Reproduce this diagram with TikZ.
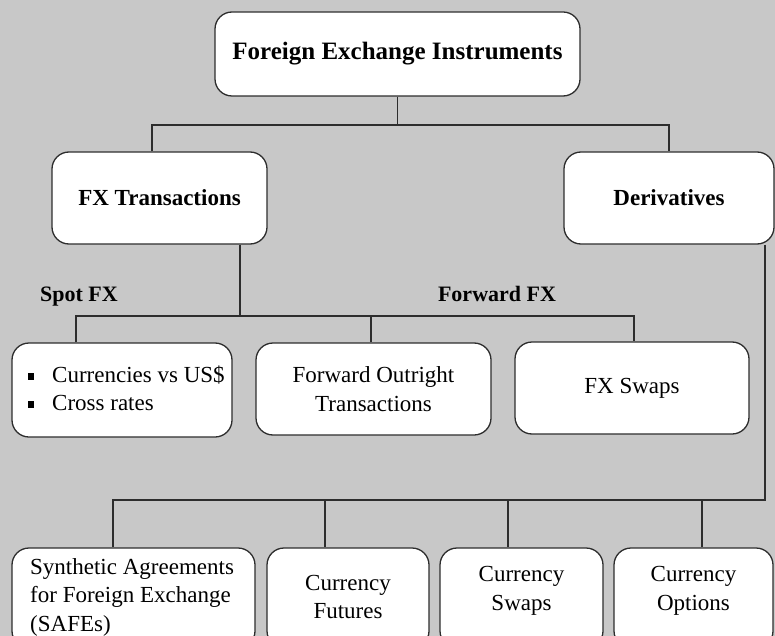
\documentclass[tikz,border=0pt]{standalone}
\usepackage{fontspec}
\setmainfont{Liberation Serif}
\definecolor{bg}{RGB}{200,200,200}
\definecolor{ln}{RGB}{45,45,45}
\begin{document}
\begin{tikzpicture}[x=1pt,y=-1pt,
  box/.style={draw=ln,line width=1.3pt,fill=white,rounded corners=17pt,inner sep=0pt},
  conn/.style={draw=ln,line width=1.3pt},
  txt/.style={font=\fontsize{23}{28.5}\selectfont,inner sep=0pt},
  btxt/.style={font=\fontsize{23}{28.5}\selectfont\bfseries,inner sep=0pt}]
\useasboundingbox (0,0) rectangle (775,636);
\clip (0,0) rectangle (775,636);
\fill[bg] (0,0) rectangle (775,636);

% top levels
\node[box,minimum width=365pt,minimum height=84pt,font=\fontsize{25}{30}\selectfont\bfseries] (top) at (397.5,54) {Foreign Exchange Instruments};
\node[box,minimum width=215pt,minimum height=92pt,btxt] (fxt) at (159.5,198) {FX Transactions};
\node[box,minimum width=210pt,minimum height=92pt,btxt] (der) at (669,198) {Derivatives};

\node[font=\fontsize{22}{26}\selectfont\bfseries,inner sep=0pt,anchor=base west] (spotl) at (40,301) {Spot FX};
\node[font=\fontsize{22}{26}\selectfont\bfseries,inner sep=0pt,anchor=base] (fwdl) at (497,301) {Forward FX};

% second row
\node[box,minimum width=220pt,minimum height=94pt] (spot) at (122,390) {};
\node[txt,anchor=west] (s1) at (52,375) {Currencies vs US\$};
\node[txt,anchor=west] (s2) at (52,403) {Cross rates};
\node[fill=black,minimum width=6pt,minimum height=7pt,inner sep=0pt] (b1) at (31,376) {};
\node[fill=black,minimum width=6pt,minimum height=7pt,inner sep=0pt] (b2) at (31,404) {};
\node[box,minimum width=235pt,minimum height=92pt,txt,align=center] (fwd) at (373.5,389) {Forward Outright\\Transactions};
\node[box,minimum width=234pt,minimum height=92pt,txt] (swp) at (632,388) {FX Swaps};

% bottom row
\node[box,minimum width=243pt,minimum height=100pt] (safe) at (133.5,598) {};
\node[box,minimum width=162pt,minimum height=100pt] (fut) at (348,598) {};
\node[box,minimum width=163pt,minimum height=100pt] (csw) at (521.5,598) {};
\node[box,minimum width=159pt,minimum height=100pt] (opt) at (693.5,598) {};
\node[txt,align=left,anchor=west] (safet) at (30,597) {Synthetic Agreements\\for Foreign Exchange\\(SAFEs)};
\node[txt,align=center] (futt) at (348,597) {Currency\\Futures};
\node[txt,align=center] (cswt) at (521.5,591) {Currency\\Swaps};
\node[txt,align=center] (optt) at (693.5,591) {Currency\\Options};

% connectors level 1
\coordinate (j1) at (397.5,125);
\coordinate (j1L) at (152,125);
\coordinate (j1R) at (669,125);
\draw[conn] (top.south) -- (j1);
\draw[conn] (j1L |- fxt.north) -- (j1L) -- (j1R) -- (j1R |- der.north);

% connectors level 2
\coordinate (j2) at (240,316);
\coordinate (j2L) at (76,316);
\coordinate (j2M) at (371,316);
\coordinate (j2R) at (634,316);
\draw[conn] (j2 |- fxt.south) -- (j2);
\draw[conn] (j2L |- spot.north) -- (j2L) -- (j2R) -- (j2R |- swp.north);
\draw[conn] (j2M) -- (j2M |- fwd.north);

% connectors derivatives
\coordinate (j3) at (765,500);
\coordinate (j3a) at (113,500);
\coordinate (j3b) at (325,500);
\coordinate (j3c) at (508,500);
\coordinate (j3d) at (702,500);
\draw[conn] (j3 |- der.south) -- (j3) -- (j3a) -- (j3a |- safe.north);
\draw[conn] (j3b) -- (j3b |- fut.north);
\draw[conn] (j3c) -- (j3c |- csw.north);
\draw[conn] (j3d) -- (j3d |- opt.north);
\end{tikzpicture}
\end{document}
